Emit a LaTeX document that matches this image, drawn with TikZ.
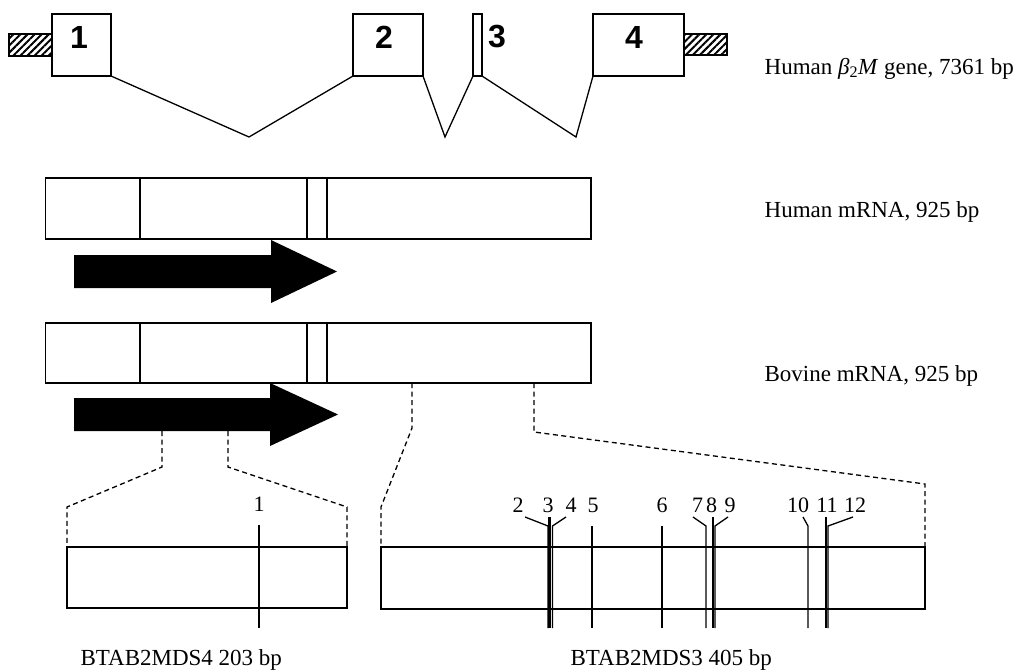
\documentclass[tikz,border=0pt]{standalone}
\usepackage{fontspec}
\setmainfont{Liberation Serif}
\newfontfamily\exfont{Liberation Sans}
\usetikzlibrary{patterns.meta}
\begin{document}
\begin{tikzpicture}[x=1pt,y=-1pt,line width=1.3pt,
  box/.style={draw,inner sep=0pt,outer sep=0pt,anchor=north west,fill=white},
  hatchbox/.style={draw,inner sep=0pt,outer sep=0pt,anchor=north west,
     pattern={Lines[angle=45,distance=5pt,line width=2pt]}},
  exnum/.style={font=\exfont\bfseries\fontsize{32}{32}\selectfont,inner sep=0pt},
  lab/.style={anchor=base west,inner sep=0pt,font=\fontsize{23}{23}\selectfont},
  num/.style={anchor=base,inner sep=0pt,font=\fontsize{22}{22}\selectfont},
  link/.style={dash pattern=on 5pt off 3.5pt},
  tick/.style={line width=1.3pt},
  thicktick/.style={line width=2.6pt},
  arrowfill/.style={fill=black}]
\useasboundingbox (0,0) rectangle (1013,670);
% ---------- gene ----------
\node[hatchbox,minimum width=43pt,minimum height=22pt] (h1) at (9,34) {};
\node[hatchbox,minimum width=43pt,minimum height=21pt] (h2) at (684,34) {};
\node[box,minimum width=59pt,minimum height=62pt] (e1) at (52,14) {};
\node[box,minimum width=70pt,minimum height=62pt] (e2) at (353,14) {};
\node[box,minimum width=9pt,minimum height=62pt] (e3) at (473,14) {};
\node[box,minimum width=91pt,minimum height=62pt] (e4) at (593,14) {};
\node[exnum] (l1) at (79,37) {1};
\node[exnum] (l2) at (384,37) {2};
\node[exnum] (l3) at (497,37) {3};
\node[exnum] (l4) at (634,37) {4};
\coordinate (v1) at (249,137);
\coordinate (v2) at (445,137);
\coordinate (v3) at (576,137);
\draw (e1.south east) -- (v1) -- (e2.south west);
\draw (e2.south east) -- (v2) -- (e3.south west);
\draw (e3.south east) -- (v3) -- (e4.south west);
\node[lab] (tg) at (764,74) {Human \textit{β}\textsubscript{2}\textit{M} gene, 7361 bp};
% ---------- human mRNA ----------
\node[box,minimum width=94.5pt,minimum height=61pt] (ha) at (45.5,178) {};
\node[box,minimum width=167pt,minimum height=61pt] (hb) at (140,178) {};
\node[box,minimum width=20pt,minimum height=61pt] (hc) at (307,178) {};
\node[box,minimum width=264pt,minimum height=61pt] (hd) at (327,178) {};
\node[lab] (th) at (764,217) {Human mRNA, 925 bp};
\fill[arrowfill] (74,255) -- (271,255) -- (271,240) -- (337,271.5) -- (271,303) -- (271,288) -- (74,288) -- cycle;
% ---------- bovine mRNA ----------
\node[box,minimum width=94.5pt,minimum height=60pt] (ba) at (45.5,323) {};
\node[box,minimum width=167pt,minimum height=60pt] (bb) at (140,323) {};
\node[box,minimum width=20pt,minimum height=60pt] (bc) at (307,323) {};
\node[box,minimum width=264pt,minimum height=60pt] (bd) at (327,323) {};
\node[lab] (tb) at (764,381) {Bovine mRNA, 925 bp};
% ---------- expanded boxes ----------
\node[box,minimum width=280pt,minimum height=61pt] (sb) at (67,547) {};
\node[box,minimum width=544pt,minimum height=62pt] (lb) at (381,547) {};
% dashed links
\coordinate (d1) at (162,431);
\coordinate (d2) at (228,431);
\coordinate (d3) at (412,383);
\coordinate (d4) at (534,383);
\draw[link] (d1) -- (162,467) -- (67,507) -- (sb.north west);
\draw[link] (d2) -- (228,467) -- (347,507) -- (sb.north east);
\draw[link] (d3) -- (412,428) -- (381,507) -- (lb.north west);
\draw[link] (d4) -- (534,432) -- (925,484) -- (lb.north east);
\fill[arrowfill] (74,398) -- (270,398) -- (270,383) -- (338,414.5) -- (270,446) -- (270,431) -- (74,431) -- cycle;
% ---------- markers ----------
\node[num] (m1) at (259,511) {1};
\draw[tick] (259,525) -- (259,628);
\node[num] (m2) at (518,512) {2};
\node[num] (m3) at (548,512) {3};
\node[num] (m4) at (571,512) {4};
\node[num] (m5) at (593,512) {5};
\node[num] (m6) at (662,512) {6};
\node[num] (m7) at (697.5,512) {7};
\node[num] (m8) at (711.5,512) {8};
\node[num] (m9) at (730,512) {9};
\node[num] (m10) at (798,512) {10};
\node[num] (m11) at (827,512) {11};
\node[num] (m12) at (855,512) {12};
\draw[tick] (525,517) -- (548,526) -- (548,628);
\draw[thicktick] (549.5,517) -- (549.5,628);
\draw[tick] (566,517) -- (552.5,526) -- (552.5,628);
\draw[tick] (592,526) -- (592,628);
\draw[tick] (662,526) -- (662,628);
\draw[tick] (693,517) -- (706,526) -- (706,628);
\draw[thicktick] (713,517) -- (713,628);
\draw[tick] (728,517) -- (715,526) -- (715,628);
\draw[tick] (803,517) -- (808,526) -- (808,628);
\draw[thicktick] (826,517) -- (826,628);
\draw[tick] (853,517) -- (828,526) -- (828,628);
% ---------- bottom labels ----------
\node[lab] (t4) at (80,665) {BTAB2MDS4 203 bp};
\node[lab] (t3) at (570,665) {BTAB2MDS3 405 bp};
\end{tikzpicture}
\end{document}
